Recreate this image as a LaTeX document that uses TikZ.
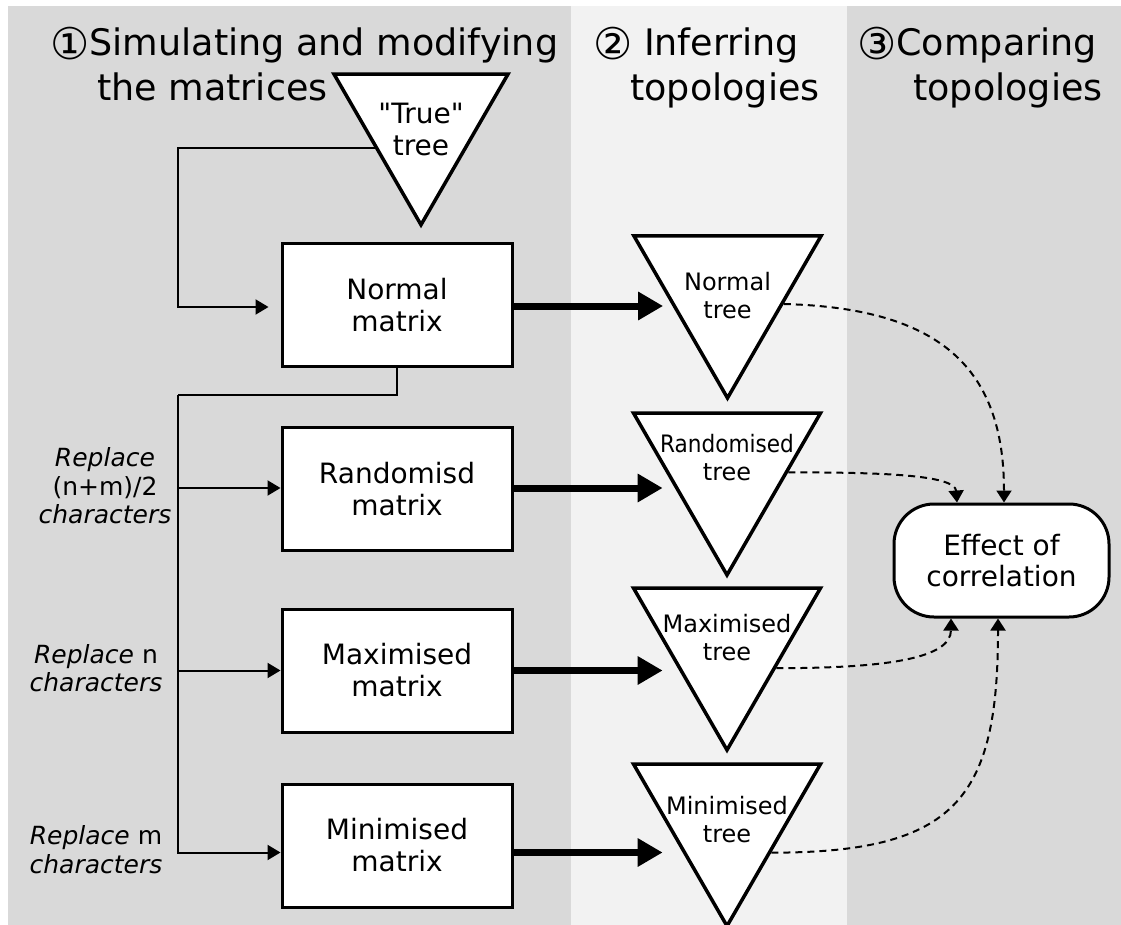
\documentclass[tikz,border=0pt]{standalone}
\usepackage{fontspec}
\setmainfont{DejaVu Sans}[ItalicFont={DejaVu Sans Oblique}]
\usepackage{graphicx}
\usetikzlibrary{arrows.meta,shapes.geometric,positioning,calc}

\definecolor{paneldark}{gray}{0.85}
\definecolor{panellight}{gray}{0.95}

\newcommand\circnum[1]{\raisebox{-4pt}{\scalebox{1.2}{#1}}}
\newcommand\plainquote{\XeTeXglyph\XeTeXcharglyph"22\relax}

\tikzstyle{matbox}=[draw,line width=3pt,fill=white,minimum width=230pt,minimum height=123pt,inner sep=0pt,align=center,font=\fontsize{28}{32}\selectfont]
\tikzstyle{treevertex}=[draw,line width=3.5pt,fill=white,regular polygon,regular polygon sides=3,shape border rotate=180,inner sep=0pt,minimum size=216pt]
\tikzstyle{treetext}=[align=center,inner sep=0pt,font=\fontsize{24}{28}\selectfont]
\tikzstyle{sidetext}=[align=center,inner sep=0pt,font=\fontsize{25}{28.5}\selectfont]
\tikzstyle{paneltitle}=[anchor=north west,align=left,inner sep=0pt,font=\fontsize{36.5}{45}\selectfont]
\tikzstyle{effectbox}=[draw,line width=3pt,fill=white,rounded corners=40pt,minimum width=215pt,minimum height=113pt,align=center,font=\fontsize{28}{31}\selectfont]
\tikzstyle{thinedge}=[draw,line width=2pt]
\tikzstyle{thinarrow}=[thinedge,-{Triangle[length=13pt,width=15pt]}]
\tikzstyle{thickarrow}=[draw,line width=7pt,-{Triangle[length=25pt,width=27pt]}]
\tikzstyle{dashedarrow}=[draw,line width=2pt,dash pattern=on 7pt off 5pt,-{Triangle[length=12pt,width=15pt]}]

\begin{document}
\begin{tikzpicture}[x=1pt,y=-1pt]
\useasboundingbox (0,0) rectangle (1121,925);

% Panels
    \fill[paneldark] (8,6) rectangle (571,925);
    \fill[panellight] (571,6) rectangle (847,925);
    \fill[paneldark] (847,6) rectangle (1121,925);

% Titles
    \node[paneltitle] (titleone) at (50,27) {\circnum{①}Simulating and modifying\\\hspace*{47pt}the matrices};
    \node[paneltitle] (titletwo) at (593,27) {\circnum{②} Inferring\\\hspace*{37pt}topologies};
    \node[paneltitle] (titlethree) at (857,27) {\circnum{③}Comparing\\\hspace*{56pt}topologies};

% Matrices
    \foreach \pos/\name/\lab in {{(397,305)/normal/Normal}, {(397,489)/random/Randomisd}, {(397,670.5)/maximised/Maximised}, {(397,845.5)/minimised/Minimised}}
        \node[matbox] (\name) at \pos {\lab\\matrix};

% Trees
    \node[treevertex,minimum size=201pt,label={[treetext,font=\fontsize{28}{32}\selectfont,yshift=-4.7pt]center:{\plainquote True\plainquote\\tree}}] (truetree) at (421,124.3) {};
    \foreach \pos/\name/\lab/\dy in {{(727.5,290)/normaltree/{Normal\\tree}/-6pt}, {(727,467)/randomtree/{\scalebox{0.9}[1]{Randomised}\\tree}/9.5pt}, {(727,642)/maxtree/{Maximised\\tree}/4.5pt}, {(727,818)/mintree/{Minimised\\tree}/-1.5pt}}
        \node[treevertex,label={[treetext,yshift=\dy]center:\lab}] (\name) at \pos {};

% Result
    \node[effectbox] (effect) at (1001.5,560.5) {Effect of\\correlation};

% Labels
    \node[sidetext] (randlabel) at (105,486) {\textit{Replace}\\(n+m)/2\\\textit{characters}};
    \node[sidetext] (maxlabel) at (96,668) {\textit{Replace} n\\\textit{characters}};
    \node[sidetext] (minlabel) at (96,849.5) {\textit{Replace} m\\\textit{characters}};

% Edges
    \coordinate (feed) at (178,148);
    \coordinate (trunk) at (178,395);
    \draw[thinarrow] (feed -| truetree.208) -- (feed) |- ([xshift=-12pt,yshift=-2pt]normal.west);
    \draw[thinedge] (normal.south) |- (trunk);
    \foreach \dest/\dy in {random/1pt, maximised/0pt, minimised/-7pt}
        \draw[thinarrow] (trunk) |- ([yshift=\dy]\dest.west);

    \foreach \source/\dest/\dy in {normal/normaltree/-1pt, random/randomtree/1pt, maximised/maxtree/0pt, minimised/mintree/-7pt}
        \draw[thickarrow] ([yshift=\dy]\source.east) -- ([yshift=\dy]\source.east -| \dest.west);

% Comparisons
    \draw[dashedarrow] (normaltree.346) .. controls +(157,4) and +(0,-134) .. ([xshift=2.5pt]effect.north);
    \draw[dashedarrow] (randomtree.355) .. controls +(90,0) and +(-2,-28) .. ([xshift=-44.5pt]effect.north);
    \draw[dashedarrow] (maxtree.332) .. controls +(110,0) and +(0,40) .. ([xshift=-50.5pt]effect.south);
    \draw[dashedarrow] (mintree.322) .. controls +(185,0) and +(0,180) .. ([xshift=-3.5pt]effect.south);

\end{tikzpicture}
\end{document}
